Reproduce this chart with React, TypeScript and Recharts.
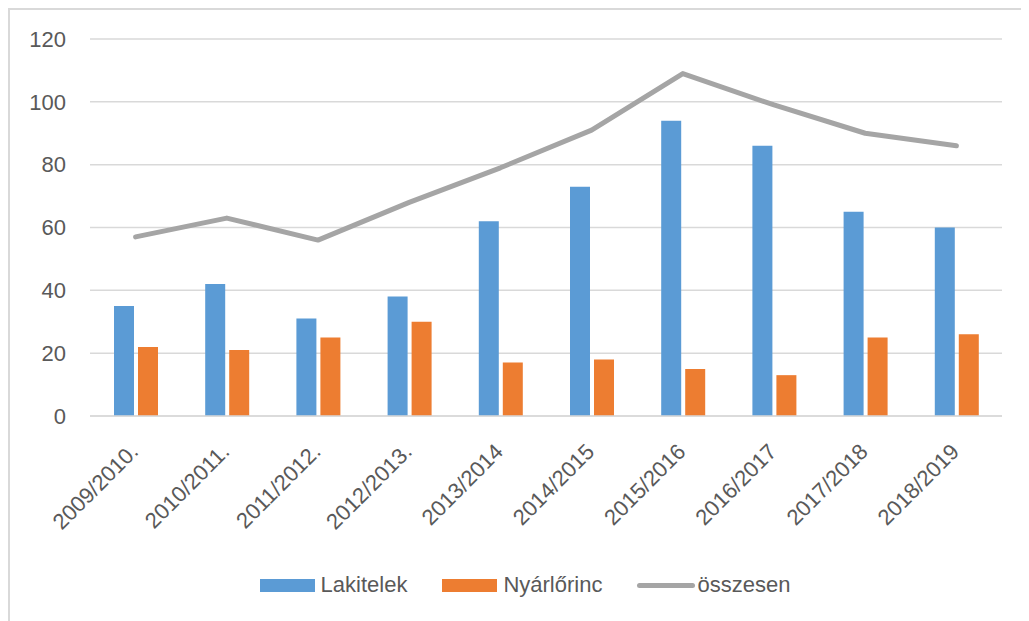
import React from "react";
import {
  ComposedChart,
  Bar,
  Line,
  XAxis,
  YAxis,
  CartesianGrid,
  Legend,
} from "recharts";

const seasons = [
  "2009/2010.",
  "2010/2011.",
  "2011/2012.",
  "2012/2013.",
  "2013/2014",
  "2014/2015",
  "2015/2016",
  "2016/2017",
  "2017/2018",
  "2018/2019",
];
const lakitelek = [35, 42, 31, 38, 62, 73, 94, 86, 65, 60];
const nyarlorinc = [22, 21, 25, 30, 17, 18, 15, 13, 25, 26];
const osszesen = [57, 63, 56, 68, 79, 91, 109, 99, 90, 86];
const yTicks = [0, 20, 40, 60, 80, 100, 120];

const data = seasons.map((s, i) => ({
  season: s,
  Lakitelek: lakitelek[i],
  "Nyárlőrinc": nyarlorinc[i],
  "összesen": osszesen[i],
}));

const FONT = "'Liberation Sans', Arial, sans-serif";
const TEXT = "#595959";

const XTick = ({ x, y, payload }: any) => (
  <text
    transform={`translate(${x + 4},${y + 37}) rotate(-45)`}
    textAnchor="end"
    fill={TEXT}
    fontSize={22}
    fontFamily={FONT}
  >
    {payload.value}
  </text>
);

const legendItems = [
  { name: "Lakitelek", color: "#5B9BD5", type: "bar" },
  { name: "Nyárlőrinc", color: "#ED7D31", type: "bar" },
  { name: "összesen", color: "#A5A5A5", type: "line" },
];

const LegendContent = () => (
  <div
    style={{
      display: "flex",
      justifyContent: "center",
      alignItems: "center",
      height: 30,
      fontFamily: FONT,
      fontSize: 22,
      color: TEXT,
      gap: 35,
    }}
  >
    {legendItems.map((it) => (
      <div key={it.name} style={{ display: "flex", alignItems: "center" }}>
        {it.type === "bar" ? (
          <span style={{ width: 55, height: 13, background: it.color, marginRight: 6 }} />
        ) : (
          <span
            style={{ width: 58, height: 5, background: it.color, borderRadius: 3, marginRight: 2 }}
          />
        )}
        <span>{it.name}</span>
      </div>
    ))}
  </div>
);

export default function App() {
  return (
    <div style={{ width: 1021, height: 613, overflow: "hidden" }}>
      <div
        style={{
          width: 1040,
          height: 640,
          borderTop: "2px solid #D9D9D9",
          borderLeft: "2px solid #D9D9D9",
          background: "#fff",
        }}
      >
        <ComposedChart
          width={1030}
          height={610}
          data={data}
          margin={{ top: 29, right: 38, bottom: 20, left: 0 }}
        >
          <CartesianGrid vertical={false} stroke="#D9D9D9" strokeWidth={1.5} />
          <XAxis
            dataKey="season"
            axisLine={{ stroke: "#D9D9D9", strokeWidth: 1.5 }}
            tickLine={false}
            tickSize={0}
            tickMargin={0}
            height={154}
            interval={0}
            tick={<XTick />}
          />
          <YAxis
            domain={[0, 120]}
            ticks={yTicks}
            width={80}
            axisLine={false}
            tickLine={false}
            tickSize={0}
            tickMargin={24}
            tick={{ fill: TEXT, fontSize: 22, fontFamily: FONT }}
          />
          <Bar dataKey="Lakitelek" fill="#5B9BD5" barSize={20} isAnimationActive={false} />
          <Bar dataKey="Nyárlőrinc" fill="#ED7D31" barSize={20} isAnimationActive={false} />
          <Line
            type="linear"
            dataKey="összesen"
            stroke="#A5A5A5"
            strokeWidth={5}
            strokeLinecap="round"
            strokeLinejoin="round"
            dot={false}
            activeDot={false}
            isAnimationActive={false}
          />
          <Legend
            verticalAlign="bottom"
            content={<LegendContent />}
            wrapperStyle={{ left: 0, width: 1030 }}
          />
        </ComposedChart>
      </div>
    </div>
  );
}
